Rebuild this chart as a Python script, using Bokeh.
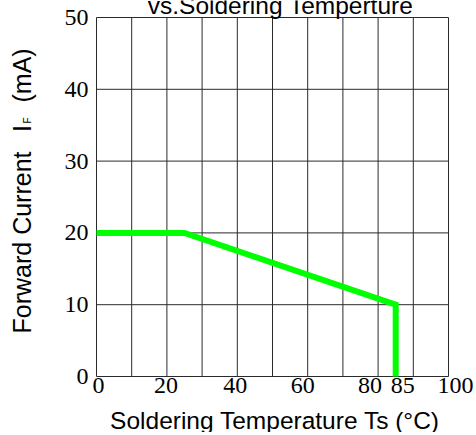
import math
from bokeh.plotting import figure
from bokeh.models import Range1d
from bokeh.core.properties import value
from bokeh.embed import file_html
from bokeh.resources import INLINE

# ---- Data ----
temperature = [0, 25, 85, 85]
forward_current = [20, 20, 10, 0]
x_tick_values = [0, 20, 40, 60, 80, 85, 100]
x_tick_labels = ["0", "20", "40", "60", "80", "85", "100"]
y_tick_values = [0, 10, 20, 30, 40, 50]
y_tick_labels = ["0", "10", "20", "30", "40", "50"]
x_grid_values = [0, 10, 20, 30, 40, 50, 60, 70, 80, 90, 100]
y_grid_values = [0, 10, 20, 30, 40, 50]

title_text = "vs.Soldering Temperture"
x_label_text = "Soldering Temperature Ts (°C)"
y_label_main = "Forward Current"
y_label_symbol = "I"
y_label_sub = "F"
y_label_unit = "(mA)"

# ---- Layout (pixels) ----
W, H = 476, 432
FRAME_L, FRAME_R, FRAME_T, FRAME_B = 96, 448, 17, 376
X0, X1 = 0, 100
Y0, Y1 = 0, 50
px_x = (FRAME_R - FRAME_L) / (X1 - X0)
px_y = (FRAME_B - FRAME_T) / (Y1 - Y0)
x_range = Range1d(X0 - FRAME_L / px_x, X1 + (W - FRAME_R) / px_x)
y_range = Range1d(Y0 - (H - FRAME_B) / px_y, Y1 + FRAME_T / px_y)

p = figure(width=W, height=H, output_backend="svg", toolbar_location=None,
           x_range=x_range, y_range=y_range,
           min_border_left=0, min_border_right=0, min_border_top=0, min_border_bottom=0)
p.axis.visible = False
p.grid.visible = False
p.outline_line_color = None
p.background_fill_color = "white"
p.border_fill_color = "white"

# grid + frame
p.segment(x0=x_grid_values, y0=[Y0] * len(x_grid_values), x1=x_grid_values, y1=[Y1] * len(x_grid_values),
          line_color="#2a2a2a", line_width=1)
p.segment(x0=[X0] * len(y_grid_values), y0=y_grid_values, x1=[X1] * len(y_grid_values), y1=y_grid_values,
          line_color="#2a2a2a", line_width=1)

# derating curve
p.line(temperature, forward_current, line_width=6, line_color="#00ff00", line_join="miter")

SERIF = value("'Liberation Serif'")
SANS = value("'Liberation Sans'")

# x tick labels (small nudges as in the original)
x_label_dx = [2, -1, -2, -5, -8, 7, 7]
p.text(x=x_tick_values, y=[Y0] * len(x_tick_values), text=x_tick_labels,
       x_offset=x_label_dx, y_offset=9, text_align="center", text_baseline="middle",
       text_font=SERIF, text_font_size="24px", text_color="black")

# y tick labels
p.text(x=[X0] * len(y_tick_values), y=y_tick_values, text=y_tick_labels,
       x_offset=-8, y_offset=0, text_align="right", text_baseline="middle",
       text_font=SERIF, text_font_size="24px", text_color="black")

# title (partly cut by the top edge, as in the original)
p.text(x=[50], y=[Y1], text=[title_text], x_offset=8, y_offset=-12.5,
       text_align="center", text_baseline="middle",
       text_font=SANS, text_font_size="24.5px", text_color="black")

# x axis label
p.text(x=[50], y=[Y0], text=[x_label_text], x_offset=2.5, y_offset=43.5,
       text_align="center", text_baseline="middle",
       text_font=SANS, text_font_size="24.5px", text_color="black")

# y axis label: "Forward Current  I_F (mA)"
ROT = math.pi / 2
p.text(x=[X0], y=[Y0], text=[y_label_main], x_offset=-74.5, y_offset=-43, angle=ROT,
       text_align="left", text_baseline="middle",
       text_font=SANS, text_font_size="25px", text_color="black")
p.text(x=[X0], y=[Y0], text=[y_label_symbol], x_offset=-74.5, y_offset=-244.5, angle=ROT,
       text_align="left", text_baseline="middle",
       text_font=SANS, text_font_size="25px", text_color="black")
p.text(x=[X0], y=[Y0], text=[y_label_sub], x_offset=-69.5, y_offset=-253, angle=ROT,
       text_align="left", text_baseline="middle",
       text_font=SANS, text_font_size="10px", text_color="black")
p.text(x=[X0], y=[Y0], text=[y_label_unit], x_offset=-74.5, y_offset=-274, angle=ROT,
       text_align="left", text_baseline="middle",
       text_font=SANS, text_font_size="25px", text_color="black")

open("out.html", "w").write(file_html(p, INLINE))
